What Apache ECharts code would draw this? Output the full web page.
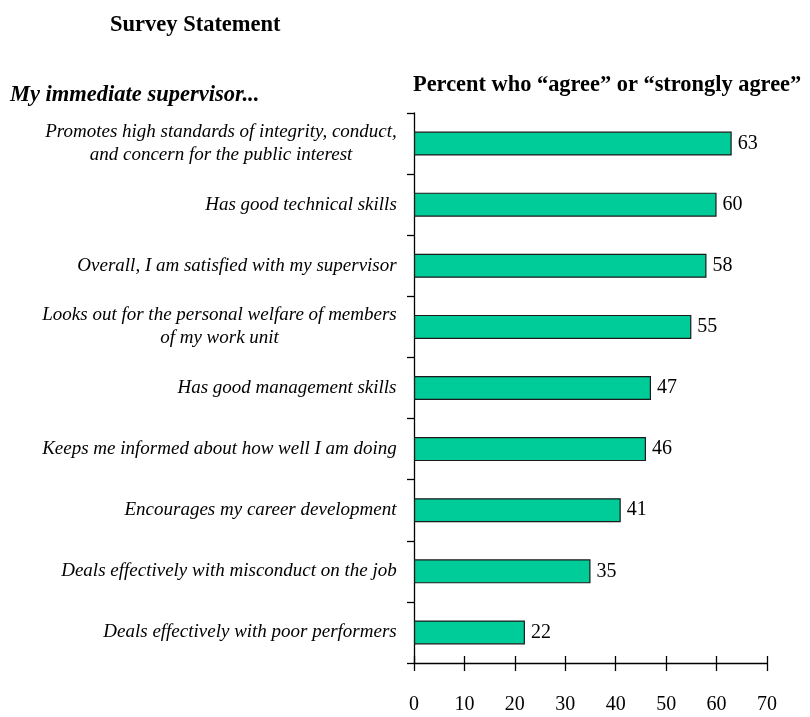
<!DOCTYPE html>
<html>
<head>
<meta charset="utf-8">
<script src="https://cdn.jsdelivr.net/npm/echarts@6/dist/echarts.min.js"></script>
<style>
  html, body { margin: 0; padding: 0; background: #fff; }
  #chart { width: 810px; height: 717px; }
</style>
</head>
<body>
<div id="chart"></div>
<script>
// Survey statements, top to bottom
const categories = [
  'Promotes high standards of integrity, conduct,\nand concern for the public interest',
  'Has good technical skills',
  'Overall, I am satisfied with my supervisor',
  'Looks out for the personal welfare of members\nof my work unit',
  'Has good management skills',
  'Keeps me informed about how well I am doing',
  'Encourages my career development',
  'Deals effectively with misconduct on the job',
  'Deals effectively with poor performers'
];
// Percent who "agree" or "strongly agree"
const values = [63, 60, 58, 55, 47, 46, 41, 35, 22];
const xTicks = { min: 0, max: 70, interval: 10 };

const SERIF = "'Liberation Serif', 'Times New Roman', serif";
const LABEL_SIZE = 19;

// Measure each label's widest line so multi-line labels can be centred within their block
const ctx = document.createElement('canvas').getContext('2d');
ctx.font = 'italic ' + LABEL_SIZE + 'px ' + SERIF;
const rich = {};
categories.forEach((c, i) => {
  const w = Math.max(...c.split('\n').map(l => ctx.measureText(l).width));
  rich['c' + i] = {
    width: Math.ceil(w),
    align: 'center',
    fontFamily: SERIF,
    fontStyle: 'italic',
    fontSize: LABEL_SIZE,
    lineHeight: 23,
    color: '#000'
  };
});

const chart = echarts.init(document.getElementById('chart'), null, { renderer: 'canvas' });

const baseX = {
  type: 'value',
  min: xTicks.min,
  max: xTicks.max,
  interval: xTicks.interval,
  position: 'bottom',
  splitLine: { show: false }
};

chart.setOption({
  animation: false,
  backgroundColor: '#fff',
  grid: { left: 414, top: 113, width: 353, height: 550, containLabel: false },
  graphic: [
    { type: 'text', x: 110, y: 25,
      style: { text: 'Survey Statement', font: 'bold 22.5px ' + SERIF, fill: '#000', verticalAlign: 'middle' } },
    { type: 'text', x: 10, y: 95,
      style: { text: 'My immediate supervisor...', font: 'italic bold 22.5px ' + SERIF, fill: '#000', verticalAlign: 'middle' } },
    { type: 'text', x: 413, y: 85,
      style: { text: 'Percent who \u201cagree\u201d or \u201cstrongly agree\u201d', font: 'bold 22.4px ' + SERIF, fill: '#000', verticalAlign: 'middle' } }
  ],
  xAxis: [
    Object.assign({}, baseX, {
      axisLine: { show: true, lineStyle: { color: '#000', width: 1.3 } },
      axisTick: { show: true, inside: false, length: 8, lineStyle: { color: '#000', width: 1.3 } },
      axisLabel: { show: true, margin: 32, fontFamily: SERIF, fontSize: 20, color: '#000' }
    }),
    Object.assign({}, baseX, {
      axisLine: { show: false },
      axisTick: { show: true, inside: true, length: 7, lineStyle: { color: '#000', width: 1.3 } },
      axisLabel: { show: false }
    })
  ],
  yAxis: {
    type: 'category',
    data: categories,
    inverse: true,
    axisLine: { show: true, lineStyle: { color: '#000', width: 1.3 } },
    axisTick: { show: true, length: 7, lineStyle: { color: '#000', width: 1.3 } },
    axisLabel: {
      margin: 17,
      align: 'right',
      formatter: (v, i) => v.split('\n').map(l => '{c' + i + '|' + l + '}').join('\n'),
      rich: rich
    }
  },
  series: [{
    type: 'bar',
    xAxisIndex: 0,
    data: values,
    barWidth: 24,
    itemStyle: { color: '#00CC99', borderColor: '#1a1a1a', borderWidth: 1.2 },
    label: {
      show: true,
      position: 'right',
      distance: 6,
      fontFamily: SERIF,
      fontSize: 20,
      color: '#000'
    }
  }]
});
</script>
</body>
</html>
